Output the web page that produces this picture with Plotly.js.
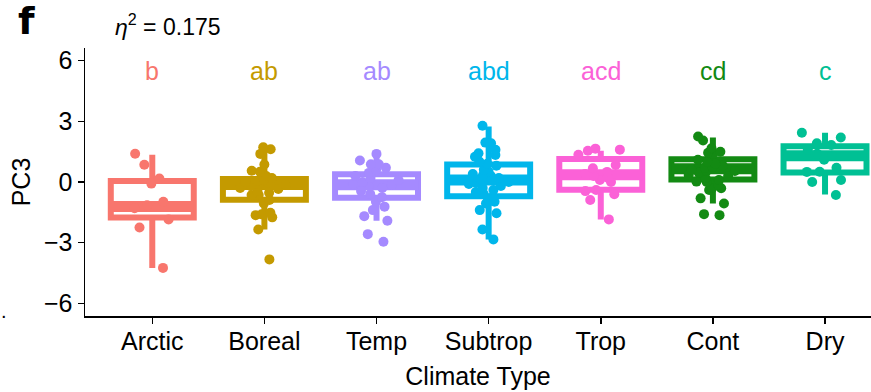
<!DOCTYPE html>
<html><head><meta charset="utf-8">
<script src="https://cdn.plot.ly/plotly-3.0.1.min.js"></script>
<style>html,body{margin:0;padding:0;background:#fff}#chart{width:871px;height:392px}</style>
</head><body><div id="chart"></div>
<script>
const categories = ["Arctic","Boreal","Temp","Subtrop","Trop","Cont","Dry"];
const colors = ["#F8766D","#C49A00","#A58AFF","#00B6EB","#FB61D7","#138A13","#00C094"];
const letters = ["b","ab","ab","abd","acd","cd","c"];
const q1 =     [-1.76,-0.88,-0.78,-0.71,-0.38, 0.12, 0.47];
const median = [-1.21,-0.12,-0.13, 0.10, 0.36, 0.65, 1.30];
const q3 =     [ 0.05, 0.15, 0.38, 0.86, 1.14, 1.12, 1.77];
const lowerfence = [-4.25,-2.35,-1.92,-2.84,-1.85,-1.06,-0.62];
const upperfence = [ 1.35, 1.62, 1.39, 2.75, 1.55, 2.20, 2.44];
const pointsArctic = [1.4,0.85,0.17,-0.08,-0.98,-1.15,-1.3,-1.85,-2.25,-4.25];
const pointsBoreal = [1.72,1.62,1.39,0.87,0.56,0.51,0.3,0.2,0.1,0.05,0.0,-0.1,-0.15,-0.2,-0.3,-0.35,-0.45,-0.53,-0.64,-0.64,-0.89,-1.06,-1.52,-1.64,-1.6,-1.75,-2.35,-3.83];
const pointsTemp = [1.39,1.06,0.88,0.88,0.7,0.6,0.45,0.3,0.2,0.1,0.0,-0.1,-0.15,-0.2,-0.3,-0.45,-0.6,-0.75,-0.98,-1.22,-1.39,-1.69,-1.92,-2.58,-2.96];
const pointsSubtrop = [2.78,1.95,1.92,1.59,1.42,1.34,1.25,1.01,0.9,0.8,0.6,0.51,0.4,0.35,0.3,0.2,0.18,0.15,0.1,0.05,0.0,-0.05,-0.1,-0.2,-0.3,-0.4,-0.5,-0.6,-0.73,-0.89,-0.98,-1.06,-1.39,-1.55,-2.35,-2.84];
const pointsTrop = [1.65,1.6,1.55,1.35,0.84,0.68,0.5,0.4,0.3,0.2,0.1,0.0,-0.4,-0.45,-0.6,-0.89,-1.85];
const pointsCont = [2.25,2.05,1.67,1.5,1.45,1.39,1.1,1.0,0.9,0.8,0.75,0.7,0.6,0.55,0.55,0.46,0.35,0.3,0.2,0.1,0.02,0.0,-0.15,-0.3,-0.31,-0.4,-0.81,-1.06,-1.59,-1.64];
const pointsDry = [2.44,2.2,1.92,1.83,1.6,1.4,1.3,1.1,0.7,0.51,0.5,0.1,0.0,-0.64];
const points = [pointsArctic,pointsBoreal,pointsTemp,pointsSubtrop,pointsTrop,pointsCont,pointsDry];
const yTicks = [-6,-3,0,3,6];
const letterY = 5.5;

const BW = 0.74;
const traces = [];
categories.forEach((c,i)=>{
  traces.push({type:'box', x:[i], q1:[q1[i]], median:[median[i]], q3:[q3[i]],
    lowerfence:[lowerfence[i]], upperfence:[upperfence[i]], width:BW,
    fillcolor:'#ffffff', line:{color:colors[i], width:6}, whiskerwidth:0,
    boxpoints:false, showlegend:false, hoverinfo:'skip'});
});
categories.forEach((c,i)=>{
  traces.push({type:'box', x:[i], q1:[median[i]], median:[median[i]], q3:[median[i]],
    lowerfence:[median[i]], upperfence:[median[i]], width:BW,
    fillcolor:'rgba(0,0,0,0)', line:{color:colors[i], width:11}, whiskerwidth:0,
    boxpoints:false, showlegend:false, hoverinfo:'skip'});
});
categories.forEach((c,i)=>{
  traces.push({type:'box', x:points[i].map(()=>i), y:points[i], width:BW,
    boxpoints:'all', jitter:0.6, pointpos:0,
    marker:{color:colors[i], size:10, opacity:1},
    fillcolor:'rgba(0,0,0,0)', line:{color:'rgba(0,0,0,0)', width:0},
    showlegend:false, hoverinfo:'y'});
});

const font = 'Liberation Sans, Arial, sans-serif';
const annotations = categories.map((c,i)=>({x:i, y:letterY, xref:'x', yref:'y', text:letters[i],
  showarrow:false, font:{family:font, size:25, color:colors[i]}}));
annotations.push({xref:'paper', yref:'paper', x:0.035, y:1, yshift:23, xanchor:'left', yanchor:'middle',
  text:'<i>η</i><sup>2</sup> = 0.175', showarrow:false, font:{family:font, size:23, color:'#000'}});
annotations.push({xref:'paper', yref:'paper', x:-0.088, xanchor:'left', y:1, yshift:27, yanchor:'middle',
  text:'<b>f</b>', showarrow:false, font:{family:'DejaVu Sans, Arial', size:38, color:'#000'}});
annotations.push({xref:'paper', yref:'paper', x:0.48, y:1, yshift:51, xanchor:'center', yanchor:'bottom',
  text:'Climate Type', showarrow:false, font:{family:font, size:25, color:'#000'}});
annotations.push({xref:'paper', yref:'paper', x:-0.11, xanchor:'left', y:0, yshift:5, yanchor:'middle',
  text:'.', showarrow:false, font:{family:font, size:20, color:'#000'}});

const layout = {
  width:871, height:392, margin:{l:85, r:0, t:48, b:76},
  paper_bgcolor:'#fff', plot_bgcolor:'#fff', boxmode:'overlay', showlegend:false,
  xaxis:{range:[-0.6,6.41], tickvals:categories.map((c,i)=>i), ticktext:categories,
    showline:true, linecolor:'#000', linewidth:1.5, ticks:'outside', ticklen:6, tickwidth:1.5, tickcolor:'#000',
    ticklabelstandoff:-4,
    showgrid:false, zeroline:false, tickfont:{family:font, size:25, color:'#000'},
    title:{text:'Climate Type', font:{family:font, size:25, color:'#000'}, standoff:14}},
  yaxis:{range:[-6.63,6.63], tickvals:yTicks, ticktext:yTicks.map(v=>v<0?'\u2212'+Math.abs(v):String(v)),
    showline:true, linecolor:'#000', linewidth:1.5, ticks:'outside', ticklen:6, tickwidth:1.5, tickcolor:'#000',
    showgrid:false, zeroline:false, tickfont:{family:font, size:25, color:'#000'},
    title:{text:'PC3', font:{family:font, size:25, color:'#000'}, standoff:6}},
  annotations:annotations
};
Plotly.newPlot('chart', traces, layout, {staticPlot:true, displayModeBar:false});
</script></body></html>
